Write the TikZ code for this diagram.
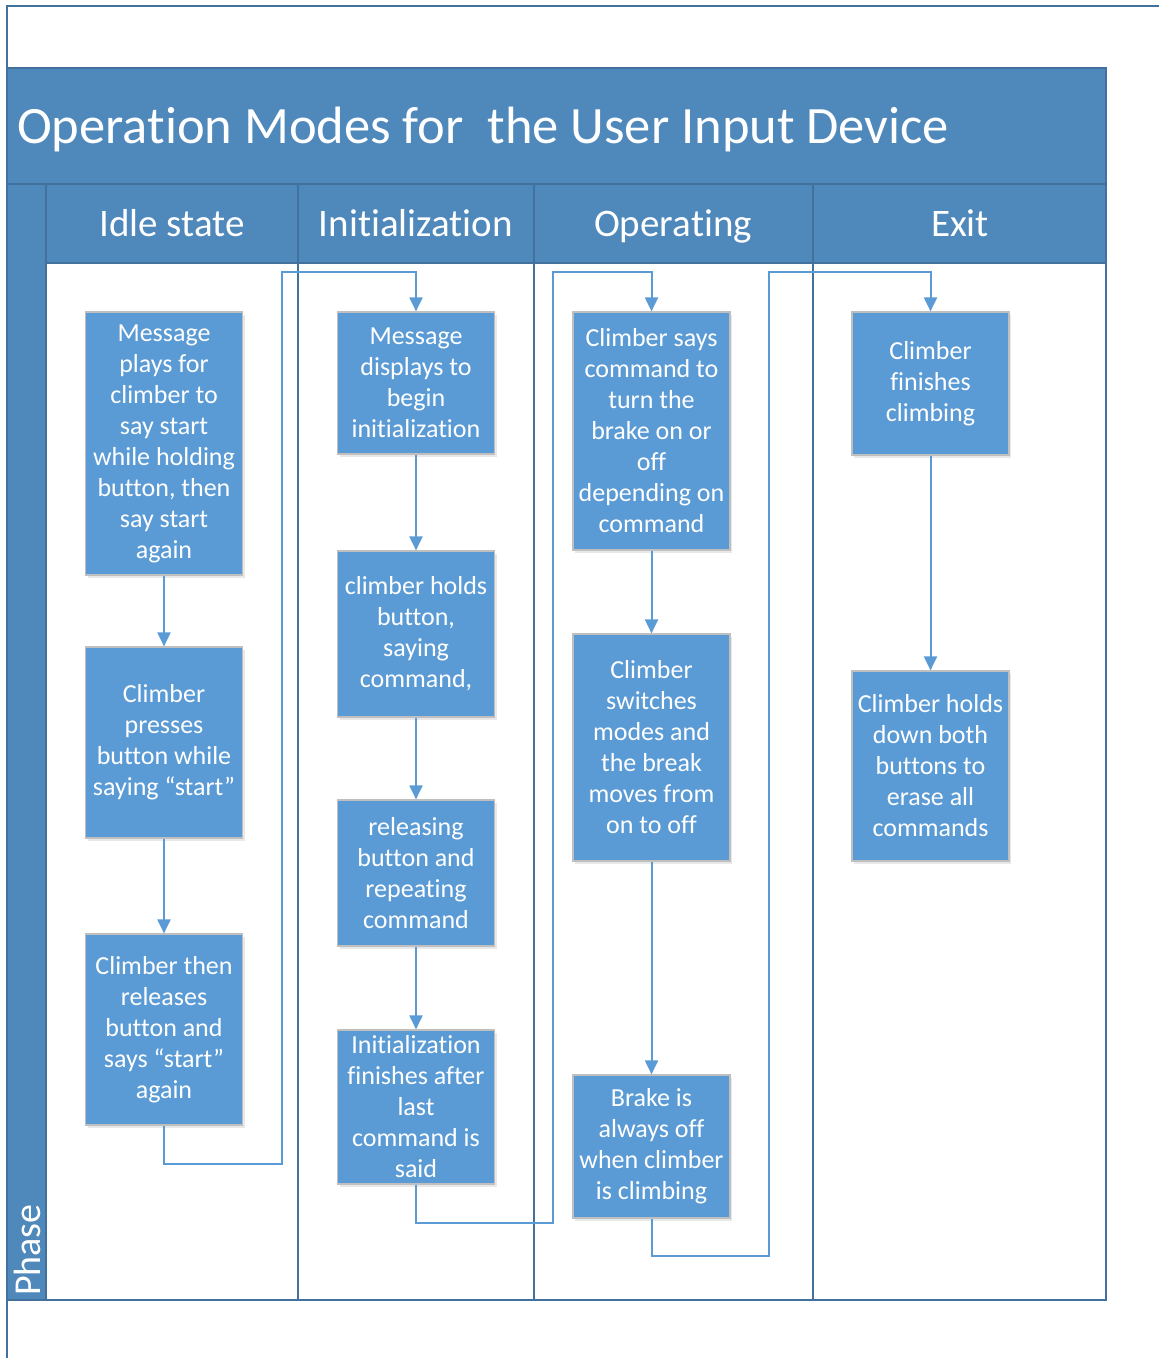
\documentclass[tikz,border=0pt]{standalone}
\usepackage{fontspec}
\setmainfont{Carlito}[Ligatures=NoCommon]
\usetikzlibrary{arrows.meta,shadows}
\definecolor{poolhead}{HTML}{4F88BB}
\definecolor{poolline}{HTML}{41719C}
\definecolor{boxblue}{HTML}{5B9BD5}
\definecolor{boxedge}{HTML}{BFBFBF}
\begin{document}
\begin{tikzpicture}[x=1pt,y=-1pt,
  stepbox/.style={draw=boxedge,line width=1.2pt,fill=boxblue,text=white,
    minimum width=157pt,align=center,inner sep=0pt,
    font=\fontsize{26}{31}\selectfont,
    drop shadow={opacity=0.18,shadow xshift=2pt,shadow yshift=-3pt}},
  flow/.style={draw=boxblue,line width=2pt},
  flowarrow/.style={flow,-{Triangle[width=13pt,length=14pt]}},
  lanehead/.style={text=white,font=\fontsize{39}{44}\selectfont,anchor=base},
  divider/.style={draw=poolline,line width=1.6pt}]
\useasboundingbox (0,0) rectangle (1159,1358);
\fill[white] (0,0) rectangle (1159,1358);
% outer frame
\draw[poolline,line width=1.2pt] (7,1358) -- (7,6) -- (1159,6);
% pool
\fill[white] (7,68) rectangle (1106,1300);
\fill[poolhead] (7,68) rectangle (1106,263);
\fill[poolhead] (7,263) rectangle (46,1300);
\node[anchor=base west,text=white,font=\fontsize{52.5}{56}\selectfont,inner sep=0pt] (title) at (17,143) {Operation Modes for\ \ the User Input Device};
\node[lanehead] (h1) at (172,236) {Idle state};
\node[lanehead] (h2) at (416,236) {Initialization};
\node[lanehead] (h3) at (673,236) {Operating};
\node[lanehead] (h4) at (960,236) {Exit};
\node[text=white,font=\fontsize{38}{42}\selectfont,rotate=90,anchor=base west,inner sep=0pt] (phase) at (40,1296) {Phase};
% pool lines
\draw[divider] (7,68) rectangle (1106,1300);
\draw[divider] (7,184) -- (1106,184);
\draw[divider] (46,263) -- (1106,263);
\draw[divider] (46,184) -- (46,1300);
\draw[divider] (298,184) -- (298,1300);
\draw[divider] (534,184) -- (534,1300);
\draw[divider] (813,184) -- (813,1300);
% boxes
\node[stepbox,minimum height=263pt] (i1) at (164,443.5) {Message\\plays for\\climber to\\say start\\while holding\\button, then\\say start\\again};
\node[stepbox,minimum height=191pt] (i2) at (164,742.5) {Climber\\presses\\button while\\saying “start”};
\node[stepbox,minimum height=191pt] (i3) at (164,1029.5) {Climber then\\releases\\button and\\says “start”\\again};
\node[stepbox,minimum height=142pt] (n1) at (416,383) {Message\\displays to\\begin\\initialization};
\node[stepbox,minimum height=166pt] (n2) at (416,634) {climber holds\\button,\\saying\\command,};
\node[stepbox,minimum height=146pt] (n3) at (416,873) {releasing\\button and\\repeating\\command};
\node[stepbox,minimum height=154pt] (n4) at (416,1107) {Initialization\\finishes after\\last\\command is\\said};
\node[stepbox,minimum height=238pt] (o1) at (651.5,431) {Climber says\\command to\\turn the\\brake on or\\off\\depending on\\command};
\node[stepbox,minimum height=227pt] (o2) at (651.5,747.5) {Climber\\switches\\modes and\\the break\\moves from\\on to off};
\node[stepbox,minimum height=143pt] (o3) at (651.5,1146.5) {Brake is\\always off\\when climber\\is climbing};
\node[stepbox,minimum height=143pt] (e1) at (930.5,383.5) {Climber\\finishes\\climbing};
\node[stepbox,minimum height=190pt] (e2) at (930.5,766) {Climber holds\\down both\\buttons to\\erase all\\commands};
% connectors within lanes
\draw[flowarrow] (i1) -- (i2);
\draw[flowarrow] (i2) -- (i3);
\draw[flowarrow] (n1) -- (n2);
\draw[flowarrow] (n2) -- (n3);
\draw[flowarrow] (n3) -- (n4);
\draw[flowarrow] (o1) -- (o2);
\draw[flowarrow] (o2) -- (o3);
\draw[flowarrow] (e1) -- (e2);
% cross-lane connectors
\coordinate (c1a) at (164,1164);
\coordinate (c1b) at (282,1164);
\coordinate (c1c) at (282,272);
\coordinate (c1d) at (416,272);
\draw[flowarrow] (i3.south) -- (c1a) -- (c1b) -- (c1c) -- (c1d) -- (n1.north);
\coordinate (c2a) at (416,1223);
\coordinate (c2b) at (553,1223);
\coordinate (c2c) at (553,272);
\coordinate (c2d) at (651.5,272);
\draw[flowarrow] (n4.south) -- (c2a) -- (c2b) -- (c2c) -- (c2d) -- (o1.north);
\coordinate (c3a) at (651.5,1256);
\coordinate (c3b) at (769,1256);
\coordinate (c3c) at (769,272);
\coordinate (c3d) at (930.5,272);
\draw[flowarrow] (o3.south) -- (c3a) -- (c3b) -- (c3c) -- (c3d) -- (e1.north);
\end{tikzpicture}
\end{document}
